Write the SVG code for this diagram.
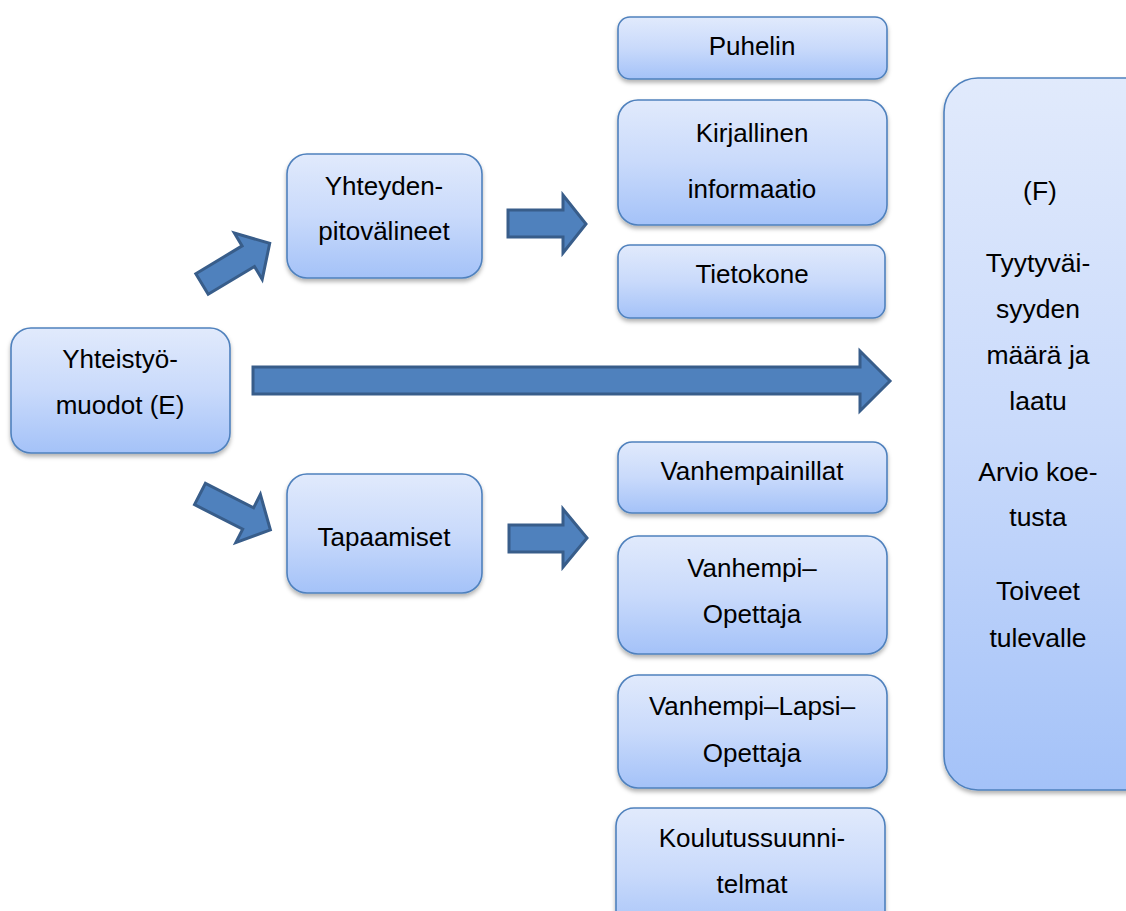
<svg xmlns="http://www.w3.org/2000/svg" width="1126" height="911" viewBox="0 0 1126 911">
  <defs>
    <linearGradient id="boxGrad" x1="0" y1="0" x2="0" y2="1">
      <stop offset="0" stop-color="#E1EAFC"/>
      <stop offset="0.5" stop-color="#C9DAFB"/>
      <stop offset="1" stop-color="#A4C2F8"/>
    </linearGradient>
    <filter id="shadow" x="-10%" y="-10%" width="130%" height="130%">
      <feDropShadow dx="0" dy="3" stdDeviation="2" flood-color="#000" flood-opacity="0.3"/>
    </filter>
    <path id="diagArrow" d="M0,-12 H54 V-27 L79,0 L54,27 V12 H0 Z"/>
  </defs>
  <style>
    .box { fill: url(#boxGrad); stroke: #4F81BD; stroke-width: 1.6; filter: url(#shadow); }
    .arrow { fill: #4F81BD; stroke: #385D8A; stroke-width: 3; stroke-linejoin: miter; }
    text { font-family: "Liberation Sans", Arial, sans-serif; font-size: 26px; fill: #000; text-anchor: middle; }
    .f text { font-size: 26.5px; }
  </style>
  <rect width="1126" height="911" fill="#FFFFFF"/>

  <g id="connectors">
    <use href="#diagArrow" class="arrow" transform="translate(202,284) rotate(-31)"/>
    <use href="#diagArrow" class="arrow" transform="translate(200,494) rotate(27)"/>
    <path class="arrow" d="M508,210 H563 V195 L586,224 L563,253 V237 H508 Z"/>
    <path class="arrow" d="M509,525 H563 V509 L587,538 L563,567 V552 H509 Z"/>
    <path class="arrow" d="M253,367 H860 V351 L890,381 L860,411 V394 H253 Z"/>
  </g>

  <g id="node-e">
    <rect class="box" x="11" y="328" width="219" height="125" rx="20"/>
    <text x="120" y="368">Yhteistyö-</text>
    <text x="120" y="414">muodot (E)</text>
  </g>

  <g id="node-yhteyden">
    <rect class="box" x="287" y="154" width="195" height="124" rx="20"/>
    <text x="384" y="195">Yhteyden-</text>
    <text x="384" y="240">pitovälineet</text>
  </g>

  <g id="node-tapaamiset">
    <rect class="box" x="287" y="474" width="195" height="119" rx="20"/>
    <text x="384" y="546">Tapaamiset</text>
  </g>

  <g id="node-puhelin">
    <rect class="box" x="618" y="17" width="269" height="62" rx="12"/>
    <text x="752" y="55">Puhelin</text>
  </g>

  <g id="node-kirjallinen">
    <rect class="box" x="618" y="100" width="269" height="125" rx="20"/>
    <text x="752" y="142">Kirjallinen</text>
    <text x="752" y="198">informaatio</text>
  </g>

  <g id="node-tietokone">
    <rect class="box" x="618" y="245" width="267" height="73" rx="12"/>
    <text x="752" y="283">Tietokone</text>
  </g>

  <g id="node-vanhempainillat">
    <rect class="box" x="618" y="442" width="269" height="71" rx="14"/>
    <text x="752" y="480">Vanhempainillat</text>
  </g>

  <g id="node-vanhempi-opettaja">
    <rect class="box" x="618" y="536" width="269" height="118" rx="20"/>
    <text x="752" y="577">Vanhempi–</text>
    <text x="752" y="623">Opettaja</text>
  </g>

  <g id="node-vanhempi-lapsi-opettaja">
    <rect class="box" x="618" y="675" width="269" height="113" rx="20"/>
    <text x="752" y="715">Vanhempi–Lapsi–</text>
    <text x="752" y="762">Opettaja</text>
  </g>

  <g id="node-koulutus">
    <rect class="box" x="616" y="808" width="269" height="130" rx="18"/>
    <text x="752" y="847">Koulutussuunni-</text>
    <text x="752" y="893">telmat</text>
  </g>

  <g id="node-f" class="f">
    <rect class="box" x="944" y="78" width="240" height="712" rx="34"/>
    <text x="1040" y="200">(F)</text>
    <text x="1038" y="272">Tyytyväi-</text>
    <text x="1038" y="318">syyden</text>
    <text x="1038" y="364">määrä ja</text>
    <text x="1038" y="410">laatu</text>
    <text x="1038" y="481">Arvio koe-</text>
    <text x="1038" y="526">tusta</text>
    <text x="1038" y="600">Toiveet</text>
    <text x="1038" y="647">tulevalle</text>
  </g>
</svg>
